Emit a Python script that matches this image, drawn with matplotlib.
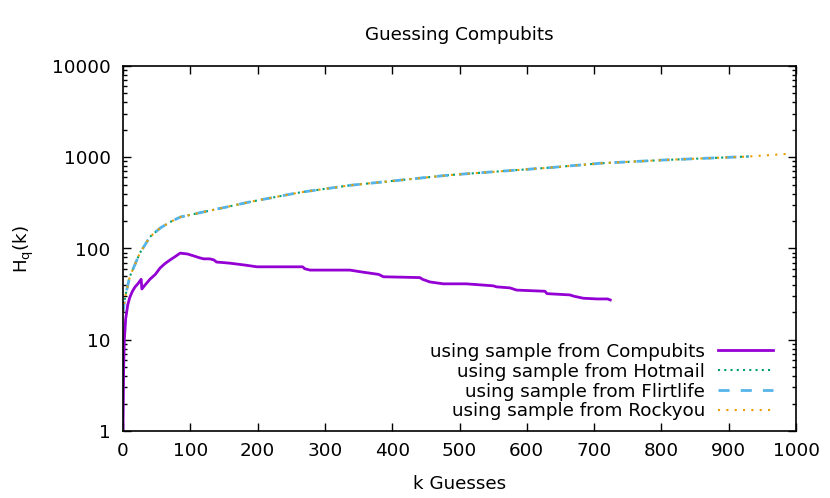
import matplotlib
matplotlib.use("Agg")
import matplotlib.pyplot as plt
from matplotlib.ticker import LogLocator, NullFormatter, FixedLocator

plt.rcParams['font.family'] = ['DejaVu Sans']

# Compubits (step-like curve)
comp_k = [0, 1, 2, 4, 7, 10, 14, 18, 22, 27, 28, 33, 40, 48, 55, 62, 70, 78, 85, 96,
          105, 114, 120, 129, 135, 139, 150, 159, 180, 199, 230, 267, 270, 278, 300, 337,
          350, 357, 380, 387, 441, 445, 456, 476, 510, 550, 555, 575, 585, 627, 630, 664,
          670, 684, 705, 720, 724]
comp_v = [1, 5, 10, 17, 24, 29, 34, 38, 41, 46, 36, 40, 46, 52, 61, 68, 75, 82, 89, 87,
          83, 79, 77, 77, 75, 71, 70, 69, 66, 63, 63, 63, 60, 58, 58, 58,
          56, 55, 52, 49, 48, 46, 43, 41, 41, 39, 38, 37, 35, 34, 32, 31,
          30, 28.5, 28, 28, 27.3]

# Hotmail / Flirtlife (nearly identical)
oth_k = [0, 3, 10, 25, 40, 55, 70, 85, 119, 154, 190, 263, 337, 486, 634, 709, 800, 930]
hot_v = [20, 29, 49, 89, 134, 167, 195, 221, 251, 285, 326, 412, 492, 639, 769, 859, 930, 1020]
flirt_v = [20, 29, 49, 89, 134, 167, 195, 221, 251, 285, 326, 412, 492, 639, 769, 859, 930, 1020]
# Rockyou
rock_k = [0, 3, 10, 25, 40, 55, 70, 85, 119, 154, 190, 263, 337, 486, 634, 709, 800, 930, 985]
rock_v = [20, 29, 49, 89, 134, 167, 195, 221, 251, 285, 326, 412, 492, 639, 769, 859, 930, 1020, 1086]

xticks = [0, 100, 200, 300, 400, 500, 600, 700, 800, 900, 1000]
yticks = [1, 10, 100, 1000, 10000]
ytick_labels = ['1', '10', '100', '1000', '10000']

FS = 13.2

fig = plt.figure(figsize=(8.3, 4.98), dpi=100)
ax = fig.add_axes([123/830, 1-431/498, (796-123)/830, (431-66)/498])

ax.plot(comp_k, comp_v, color='#9400D3', lw=2.0, label='using sample from Compubits')
ax.plot(oth_k, hot_v, color='#009E73', lw=1.5, ls=(0, (1, 2)), label='using sample from Hotmail')
ax.plot(oth_k, flirt_v, color='#56B4E9', lw=2.0, ls=(0, (4, 4)), label='using sample from Flirtlife')
ax.plot(rock_k, rock_v, color='#E69F00', lw=1.5, ls=(0, (1, 3)), label='using sample from Rockyou')

ax.set_yscale('log')
ax.set_xlim(0, 1000)
ax.set_ylim(1, 10000)
ax.xaxis.set_major_locator(FixedLocator(xticks))
ax.set_xticklabels([str(t) for t in xticks])
ax.yaxis.set_major_locator(FixedLocator(yticks))
ax.set_yticklabels(ytick_labels)
ax.yaxis.set_minor_locator(LogLocator(base=10, subs=range(2, 10)))
ax.yaxis.set_minor_formatter(NullFormatter())

ax.tick_params(which='major', direction='in', length=6, width=1, top=True, right=True,
               labelsize=FS, pad=9, color='black')
ax.tick_params(which='minor', direction='in', length=3, width=1, top=True, right=True)
ax.tick_params(axis='x', pad=8)
for s in ax.spines.values():
    s.set_linewidth(1.2)

ax.set_title('Guessing Compubits', fontsize=FS, pad=19)
ax.set_xlabel('k Guesses', fontsize=FS, labelpad=11)
ax.set_ylabel(r'H$_\mathregular{q}$(k)', fontsize=FS, labelpad=11)

leg = ax.legend(loc='lower right', frameon=False, markerfirst=False, fontsize=FS,
                handlelength=3.0, labelspacing=0.1, borderaxespad=0.0, handletextpad=0.7,
                bbox_to_anchor=(0.977, 0.009))
for t in leg.get_texts():
    t.set_ha('right')
leg._legend_box.align = 'right'

fig.savefig('out.png', dpi=100)
